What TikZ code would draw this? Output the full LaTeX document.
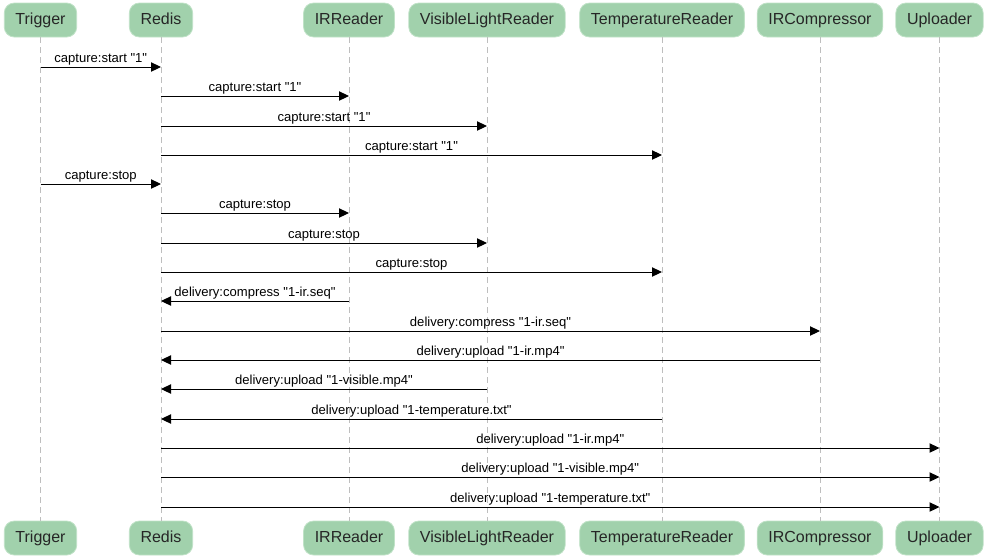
\documentclass[tikz,border=0pt]{standalone}
\usepackage{fontspec}
\setmainfont{Liberation Sans}[Ligatures=TeXOff]
\usepackage{xcolor}
\usetikzlibrary{arrows.meta}

\definecolor{actorfill}{RGB}{161,209,172}
\definecolor{actorline}{RGB}{192,226,199}
\definecolor{lifegray}{RGB}{190,190,190}

\begin{document}
\begin{tikzpicture}[x=0.75pt, y=-0.75pt]
				\tikzstyle{actor}=[draw=actorline, fill=actorfill, rounded corners=7.5pt, font=\fontsize{12}{14}\selectfont, text=black!85, inner xsep=8.4pt, text height=8.7pt, text depth=2.5pt, minimum height=25.5pt, line width=0.6pt];
				\tikzstyle{lifeline}=[lifegray, line width=0.75pt, dash pattern=on 4.5pt off 3pt];
				\tikzstyle{msg}=[black, line width=0.75pt, -{Triangle[length=7.5pt, width=7pt]}];
				\tikzstyle{msglabel}=[font=\fontsize{9.8}{11}\selectfont, inner sep=1.2pt, above];
				\useasboundingbox (0, 0) rectangle (989, 558);
				
				%Actors top
				\node[actor] (trigger) at (40.5, 20) {Trigger};
				\node[actor] (redis) at (161, 20) {Redis};
				\node[actor] (irreader) at (349, 20) {IRReader};
				\node[actor] (visreader) at (487, 20) {VisibleLightReader};
				\node[actor] (tempreader) at (662, 20) {TemperatureReader};
				\node[actor] (ircomp) at (820, 20) {IRCompressor};
				\node[actor] (uploader) at (939.5, 20) {Uploader};
				
				%Actors bottom
				\node[actor] (trigger-b) at (40.5, 538) {Trigger};
				\node[actor] (redis-b) at (161, 538) {Redis};
				\node[actor] (irreader-b) at (349, 538) {IRReader};
				\node[actor] (visreader-b) at (487, 538) {VisibleLightReader};
				\node[actor] (tempreader-b) at (662, 538) {TemperatureReader};
				\node[actor] (ircomp-b) at (820, 538) {IRCompressor};
				\node[actor] (uploader-b) at (939.5, 538) {Uploader};
				
				%Lifelines
				\foreach \a in {trigger, redis, irreader, visreader, tempreader, ircomp, uploader}
					\draw[lifeline] (\a.south) -- (\a-b.north);
				
				%Capture start
				\draw[msg] (trigger |- 0, 67) -- (redis |- 0, 67) node[msglabel, midway] {capture:start "1"};
				\draw[msg] (redis |- 0, 96) -- (irreader |- 0, 96) node[msglabel, midway] {capture:start "1"};
				\draw[msg] (redis |- 0, 126) -- (visreader |- 0, 126) node[msglabel, midway] {capture:start "1"};
				\draw[msg] (redis |- 0, 155) -- (tempreader |- 0, 155) node[msglabel, midway] {capture:start "1"};
				
				%Capture stop
				\draw[msg] (trigger |- 0, 184) -- (redis |- 0, 184) node[msglabel, midway] {capture:stop};
				\draw[msg] (redis |- 0, 213) -- (irreader |- 0, 213) node[msglabel, midway] {capture:stop};
				\draw[msg] (redis |- 0, 243) -- (visreader |- 0, 243) node[msglabel, midway] {capture:stop};
				\draw[msg] (redis |- 0, 272) -- (tempreader |- 0, 272) node[msglabel, midway] {capture:stop};
				
				%Delivery
				\draw[msg] (irreader |- 0, 301) -- (redis |- 0, 301) node[msglabel, midway] {delivery:compress "1-ir.seq"};
				\draw[msg] (redis |- 0, 331) -- (ircomp |- 0, 331) node[msglabel, midway] {delivery:compress "1-ir.seq"};
				\draw[msg] (ircomp |- 0, 360) -- (redis |- 0, 360) node[msglabel, midway] {delivery:upload "1-ir.mp4"};
				\draw[msg] (visreader |- 0, 389) -- (redis |- 0, 389) node[msglabel, midway] {delivery:upload "1-visible.mp4"};
				\draw[msg] (tempreader |- 0, 419) -- (redis |- 0, 419) node[msglabel, midway] {delivery:upload "1-temperature.txt"};
				
				%Upload
				\draw[msg] (redis |- 0, 448) -- (uploader |- 0, 448) node[msglabel, midway] {delivery:upload "1-ir.mp4"};
				\draw[msg] (redis |- 0, 477) -- (uploader |- 0, 477) node[msglabel, midway] {delivery:upload "1-visible.mp4"};
				\draw[msg] (redis |- 0, 507) -- (uploader |- 0, 507) node[msglabel, midway] {delivery:upload "1-temperature.txt"};
			\end{tikzpicture}
\end{document}
